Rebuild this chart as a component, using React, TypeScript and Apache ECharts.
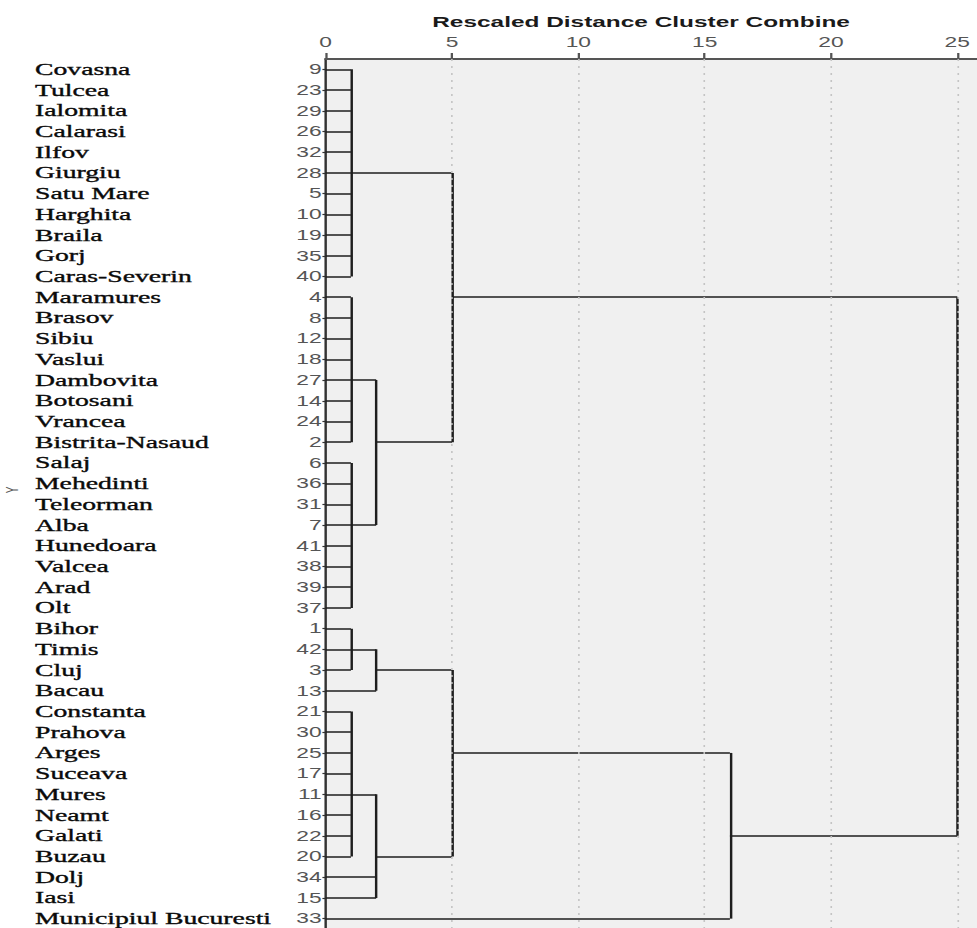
import React, { useEffect, useRef } from "react";
import * as echarts from "echarts";

const leafNames = [
  "Covasna", "Tulcea", "Ialomita", "Calarasi", "Ilfov", "Giurgiu", "Satu Mare",
  "Harghita", "Braila", "Gorj", "Caras-Severin", "Maramures", "Brasov", "Sibiu",
  "Vaslui", "Dambovita", "Botosani", "Vrancea", "Bistrita-Nasaud", "Salaj",
  "Mehedinti", "Teleorman", "Alba", "Hunedoara", "Valcea", "Arad", "Olt",
  "Bihor", "Timis", "Cluj", "Bacau", "Constanta", "Prahova", "Arges", "Suceava",
  "Mures", "Neamt", "Galati", "Buzau", "Dolj", "Iasi", "Municipiul Bucuresti",
];

const leafIds = [
  "9", "23", "29", "26", "32", "28", "5", "10", "19", "35", "40", "4", "8", "12",
  "18", "27", "14", "24", "2", "6", "36", "31", "7", "41", "38", "39", "37",
  "1", "42", "3", "13", "21", "30", "25", "17", "11", "16", "22", "20", "34", "15", "33",
];

// merge k joins the listed children (leaf row numbers or "m<j>" = earlier merge j)
const mergeChildren: (number | string)[][] = [
  [0, 1, 2, 3, 4, 5, 6, 7, 8, 9, 10],
  [11, 12, 13, 14, 15, 16, 17, 18],
  [19, 20, 21, 22, 23, 24, 25, 26],
  ["m1", "m2"],
  ["m0", "m3"],
  [27, 28, 29],
  ["m5", 30],
  [31, 32, 33, 34, 35, 36, 37, 38],
  ["m7", 39, 40],
  ["m6", "m8"],
  ["m9", 41],
  ["m4", "m10"],
];
// rescaled distance at which each merge happens
const mergeHeights = [1, 1, 1, 2, 5, 1, 2, 1, 2, 5, 16, 25];
// row at which each merged cluster's line leaves towards its parent
const mergeRows = [5, 15, 22, 18, 11, 28, 29, 35, 38, 33, 37, 24];

const axisTickValues = [0, 5, 10, 15, 20, 25];
const gridValues = [5, 10, 15, 20, 25];
const titleText = "Rescaled Distance Cluster Combine";
const yName = "Y";

const STRETCH = 977 / 600;
const W = 600;
const H = 928;

function buildSegments() {
  const segs: { coords: number[][] }[] = [];
  mergeChildren.forEach((children, k) => {
    const h = mergeHeights[k];
    const ys: number[] = [];
    children.forEach((c) => {
      let y: number;
      let x0: number;
      if (typeof c === "number") {
        y = c;
        x0 = 0;
      } else {
        const j = Number(c.slice(1));
        y = mergeRows[j];
        x0 = mergeHeights[j];
      }
      ys.push(y);
      segs.push({ coords: [[x0, y], [h, y]] });
    });
    segs.push({ coords: [[h, Math.min(...ys)], [h, Math.max(...ys)]] });
  });
  return segs;
}

export default function App() {
  const ref = useRef<HTMLDivElement>(null);

  useEffect(() => {
    if (!ref.current) return;
    const chart = echarts.init(ref.current, undefined, { renderer: "svg" });
    const option: any = {
      animation: false,
      backgroundColor: "#ffffff",
      grid: {
        left: 200,
        right: 0,
        top: 59,
        height: 870,
        containLabel: false,
        outerBoundsMode: "none",
        show: true,
        backgroundColor: "#f0f0f0",
        borderWidth: 0,
      },
      xAxis: {
        type: "value",
        position: "top",
        min: 0,
        max: 25.78,
        interval: 5,
        axisLine: { show: true, lineStyle: { color: "#555555", width: 2 } },
        axisTick: {
          show: true,
          length: 6,
          customValues: axisTickValues,
          lineStyle: { color: "#555555", width: 1.4 },
        },
        axisLabel: {
          customValues: axisTickValues,
          margin: 10,
          color: "#555555",
          fontSize: 14,
          fontFamily: "Liberation Sans",
          formatter: (v: number) => (v % 5 === 0 ? String(v) : ""),
        },
        splitLine: { show: false },
      },
      yAxis: [
        {
          type: "category",
          inverse: true,
          data: leafIds,
          position: "left",
          boundaryGap: true,
          axisLine: { show: true, lineStyle: { color: "#333333", width: 1.5 } },
          axisTick: {
            show: true,
            alignWithLabel: true,
            interval: 0,
            length: 2,
            lineStyle: { color: "#333333", width: 1.2 },
          },
          axisLabel: {
            interval: 0,
            margin: 2.5,
            color: "#555555",
            fontSize: 14,
            fontFamily: "Liberation Sans",
          },
          splitLine: { show: false },
        },
        {
          type: "category",
          inverse: true,
          data: leafNames,
          position: "left",
          offset: 0,
          boundaryGap: true,
          axisLine: { show: false },
          axisTick: { show: false },
          axisLabel: {
            interval: 0,
            margin: 178.5,
            align: "left",
            color: "#0a0a0a",
            fontSize: 17,
            fontFamily: "Liberation Serif",
            textBorderColor: "#0a0a0a",
            textBorderWidth: 0.35,
          },
          splitLine: { show: false },
        },
      ],
      graphic: [
        {
          type: "text",
          x: 393.7,
          y: 22,
          style: {
            text: titleText,
            textAlign: "center",
            textVerticalAlign: "middle",
            font: 'bold 15px "Liberation Sans"',
            fill: "#1a1a1a",
          },
        },
        {
          type: "text",
          x: 8,
          y: 490,
          rotation: Math.PI / 2,
          style: {
            text: yName,
            textAlign: "center",
            textVerticalAlign: "middle",
            font: '10px "Liberation Sans"',
            fill: "#555555",
          },
        },
      ],
      series: [
        {
          type: "scatter",
          xAxisIndex: 0,
          yAxisIndex: 0,
          data: [],
          silent: true,
          z: 1,
          markLine: {
            silent: true,
            symbol: ["none", "none"],
            label: { show: false },
            lineStyle: { color: "#c4c4c4", width: 1, type: [2, 5] },
            data: gridValues.map((v) => ({ xAxis: v })),
          },
        },
        {
          type: "lines",
          coordinateSystem: "cartesian2d",
          xAxisIndex: 0,
          yAxisIndex: 0,
          silent: true,
          z: 3,
          lineStyle: { color: "#1e1e1e", width: 1.5, opacity: 1, curveness: 0 },
          data: buildSegments(),
        },
      ],
    };
    chart.setOption(option);
    return () => chart.dispose();
  }, []);

  return (
    <div
      style={{
        position: "absolute",
        left: 0,
        top: 0,
        width: W,
        height: H,
        overflow: "hidden",
        transform: `scaleX(${STRETCH})`,
        transformOrigin: "0 0",
        background: "#ffffff",
      }}
    >
      <div ref={ref} style={{ width: W, height: H }} />
    </div>
  );
}
